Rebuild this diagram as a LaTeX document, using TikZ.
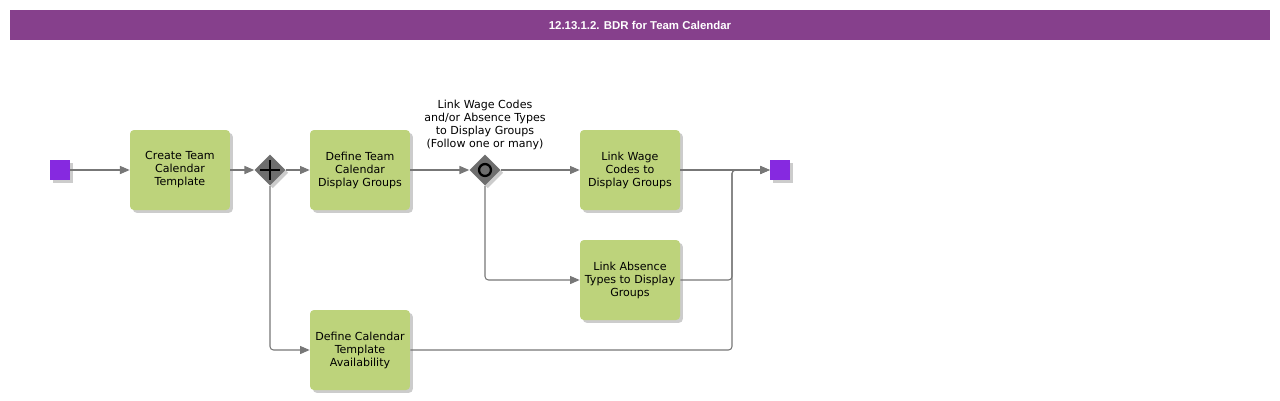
\documentclass[tikz,border=0pt]{standalone}
\usepackage{fontspec}
\setmainfont{DejaVu Sans}
\newfontfamily\titlefont{Liberation Sans}
\usetikzlibrary{arrows.meta,positioning,shapes.geometric,shadows}
\definecolor{barlila}{HTML}{86408C}
\definecolor{esemeny}{HTML}{8629E0}
\definecolor{feladat}{HTML}{BDD37B}
\definecolor{kapu}{HTML}{6E6E6E}
\definecolor{vonal}{HTML}{777777}
\tikzset{
  arny/.style={drop shadow={shadow xshift=1.6pt,shadow yshift=-1.6pt,fill=black,opacity=0.2}},
  esem/.style={rectangle,fill=esemeny,minimum size=0.4cm,inner sep=0pt,arny},
  feladatdob/.style={rectangle,rounded corners=2.2pt,fill=feladat,minimum width=2cm,
    minimum height=1.6cm,inner sep=1pt,align=center,arny,
    font=\fontsize{6.3}{7.4}\selectfont},
  kapudob/.style={diamond,fill=kapu,minimum size=0.62cm,inner sep=0pt,arny},
  lin/.style={draw=vonal,line width=0.6pt,rounded corners=2pt},
  nyil/.style={lin,-{Triangle[length=5.5pt,width=4.6pt]}},
}

\begin{document}
\begin{tikzpicture}[x=0.02cm,y=-0.02cm]
  \useasboundingbox (0,0) rectangle (1280,400);
  % fejlec
  \node[fill=barlila,minimum width=25.2cm,minimum height=0.6cm,inner sep=0pt,
    text=white,font=\titlefont\bfseries\fontsize{6.5}{7}\selectfont] (cim) at (640,25)
    {12.13.1.2. BDR for Team Calendar};
  % esemenyek es feladatok
  \node[esem] (start) at (60,170) {};
  \node[feladatdob] (creat) at (180,170) {Create Team\\Calendar\\Template};
  \node[kapudob] (par) at (270,170) {};
  \draw[line width=1.5pt] ([xshift=-5.5pt]par.center) -- ([xshift=5.5pt]par.center)
    ([yshift=-5.5pt]par.center) -- ([yshift=5.5pt]par.center);
  \node[feladatdob] (defgr) at (360,170) {Define Team\\Calendar\\Display Groups};
  \node[kapudob] (incl) at (485,170) {};
  \draw[line width=1.3pt] (incl.center) circle (3.4pt);
  \node[align=center,font=\fontsize{6.3}{7.4}\selectfont,anchor=south] (inclcim) at (485,156)
    {Link Wage Codes\\and/or Absence Types\\to Display Groups\\(Follow one or many)};
  \node[feladatdob] (wage) at (630,170) {Link Wage\\Codes to\\Display Groups};
  \node[feladatdob] (absn) at (630,280) {Link Absence\\Types to Display\\Groups};
  \node[feladatdob] (avail) at (360,350) {Define Calendar\\Template\\Availability};
  \node[esem] (vege) at (780,170) {};
  \coordinate (egyes) at (732,170);
  % kapcsolatok
  \draw[nyil] (start) -- (creat);
  \draw[nyil] (creat) -- (par);
  \draw[nyil] (par) -- (defgr);
  \draw[nyil] (par.south) |- (avail.west);
  \draw[nyil] (defgr) -- (incl);
  \draw[nyil] (incl) -- (wage);
  \draw[nyil] (incl.south) |- (absn.west);
  \draw[nyil] (wage) -- (vege);
  \draw[nyil] (absn.east) -| (egyes) -- (vege.west);
  \draw[nyil] (avail.east) -| (egyes) -- (vege.west);
\end{tikzpicture}
\end{document}
